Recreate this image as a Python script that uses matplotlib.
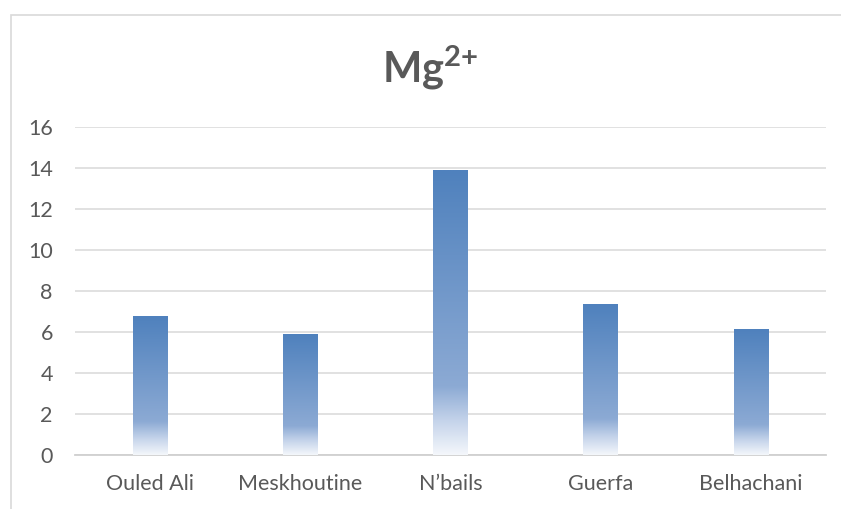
import numpy as np
import matplotlib.pyplot as plt
from matplotlib.colors import LinearSegmentedColormap
from matplotlib.patches import Rectangle

sites = ['Ouled Ali', 'Meskhoutine', 'N\u2019bails', 'Guerfa', 'Belhachani']
mg = [6.75, 5.9, 13.9, 7.32, 6.1]
yticks = [0, 2, 4, 6, 8, 10, 12, 14, 16]

plt.rcParams['font.family'] = ['Lato', 'DejaVu Sans']
plt.rcParams['mathtext.fontset'] = 'custom'
plt.rcParams['mathtext.bf'] = 'Lato:bold'
plt.rcParams['mathtext.rm'] = 'Lato:bold'

grey = '#595959'
# gradient from near-white at the base to blue at the top of each bar
fade = LinearSegmentedColormap.from_list(
    'fade', [(0.0, '#f4f7fb'), (0.12, '#c4d3ea'), (0.24, '#8caad4'), (1.0, '#4f81bd')])

fig = plt.figure(figsize=(8.41, 5.09), dpi=100)
ax = fig.add_axes([75 / 841, 1 - 455 / 509, 751 / 841, 328 / 509])

# chart border
fig.patches.append(Rectangle((10.5 / 841, -0.05), 1.0, 1 - 14.5 / 509 + 0.05,
                             transform=fig.transFigure, fill=False,
                             edgecolor='#d9d9d9', linewidth=1.2))

x = np.arange(len(sites))
w = 0.23
grad = np.linspace(0, 1, 256).reshape(-1, 1)
for xi, v in zip(x, mg):
    ax.imshow(grad, cmap=fade, origin='lower', aspect='auto',
              extent=[xi - w / 2, xi + w / 2, 0, v], zorder=3, interpolation='bilinear')

ax.set_xlim(-0.5, len(sites) - 0.5)
ax.set_ylim(0, 16)
ax.set_yticks(yticks)
ax.set_xticks(x)
ax.set_xticklabels(sites)
ax.tick_params(length=0, labelsize=15.5, colors=grey)
ax.tick_params(axis='y', pad=16)
ax.tick_params(axis='x', pad=14)
ax.grid(axis='y', color='#d9d9d9', linewidth=1.1)
ax.set_axisbelow(True)
for s in ['left', 'right', 'top']:
    ax.spines[s].set_visible(False)
ax.spines['bottom'].set_color('#d0d0d0')
ax.spines['bottom'].set_linewidth(1.3)

fig.text(430 / 841, 1 - 68 / 509, r'Mg$^{\mathbf{2{+}}}$', ha='center', va='center',
         fontsize=30, fontweight='bold', color=grey)

fig.savefig('out.png', dpi=100)
